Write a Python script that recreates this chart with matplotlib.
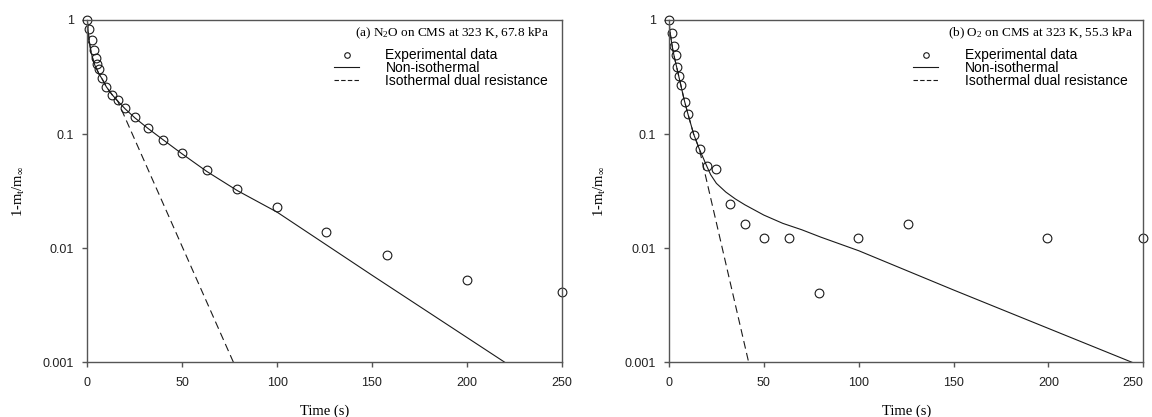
#------------------------------------------------------------
# plot.py
#
# Descr : uptake curves (1 - mt/minf) for N2O and O2 on CMS,
#         experimental points against the non-isothermal and
#         isothermal dual resistance models
#------------------------------------------------------------

import matplotlib
matplotlib.use('Agg')
import matplotlib.pyplot as plt
from matplotlib.lines import Line2D
from matplotlib.ticker import FixedLocator, FixedFormatter, NullLocator

# (a) N2O on CMS at 323 K, 67.8 kPa
n2o_exp_time = [0, 1.0, 2.3, 3.5, 4.4, 5.0, 6.0, 7.7, 9.9, 13, 16, 20, 25, 32, 40, 50, 63, 79, 100, 126, 158, 200, 250]
n2o_exp_frac = [1.0, 0.83, 0.67, 0.55, 0.46, 0.41, 0.37, 0.31, 0.26, 0.22, 0.20, 0.168, 0.140, 0.114, 0.089, 0.068,
                0.048, 0.033, 0.023, 0.014, 0.0088, 0.0053, 0.0041]

n2o_noniso_time = [0, 0.5, 1, 1.5, 2, 3, 4, 5, 6, 8, 10, 13, 16, 20, 25, 32, 40, 50, 63, 79, 100, 150, 220]
n2o_noniso_frac = [1.0, 0.78, 0.66, 0.58, 0.52, 0.45, 0.40, 0.37, 0.34, 0.30, 0.26, 0.222, 0.195, 0.166, 0.139,
                   0.112, 0.089, 0.067, 0.047, 0.032, 0.0207, 0.0058, 0.001]

n2o_dual_time = [0, 0.5, 1, 1.5, 2, 3, 4, 5, 6, 8, 10, 13, 16, 77]
n2o_dual_frac = [1.0, 0.78, 0.66, 0.58, 0.52, 0.45, 0.40, 0.37, 0.34, 0.30, 0.26, 0.222, 0.195, 0.001]

# (b) O2 on CMS at 323 K, 55.3 kPa
o2_exp_time = [0, 1.75, 2.8, 3.5, 4.4, 5.3, 6.1, 8.3, 10.2, 13.2, 16.3, 19.9, 24.6, 32.1, 40.3, 50.3, 63.2, 78.9,
               99.8, 125.8, 199.3, 250]
o2_exp_frac = [1.0, 0.764, 0.595, 0.493, 0.385, 0.323, 0.269, 0.190, 0.150, 0.0975, 0.074, 0.053, 0.049, 0.0245,
               0.0162, 0.01225, 0.01225, 0.00405, 0.01225, 0.0162, 0.01225, 0.01225]

o2_noniso_time = [0, 0.5, 1, 1.5, 2, 3, 4, 5, 6, 8, 10, 13, 16, 20, 22, 25, 30, 35, 40, 50, 60, 70, 80, 100, 150, 244]
o2_noniso_frac = [1.0, 0.80, 0.70, 0.62, 0.55, 0.46, 0.39, 0.33, 0.28, 0.20, 0.15, 0.10, 0.074, 0.052, 0.044,
                  0.037, 0.031, 0.027, 0.024, 0.0195, 0.0165, 0.0145, 0.0125, 0.0095, 0.0043, 0.001]

o2_dual_time = [0, 0.5, 1, 1.5, 2, 3, 4, 5, 6, 8, 10, 13, 16, 42]
o2_dual_frac = [1.0, 0.80, 0.70, 0.62, 0.55, 0.46, 0.39, 0.33, 0.28, 0.20, 0.15, 0.10, 0.074, 0.001]

x_ticks = [0, 50, 100, 150, 200, 250]
y_ticks = [0.001, 0.01, 0.1, 1]
y_tick_labels = ['0.001', '0.01', '0.1', '1']

SERIF = 'Liberation Serif'
SANS = 'Liberation Sans'
SPINE_COLOR = '#555555'
LINE_COLOR = '#1a1a1a'

plt.rcParams['font.family'] = SANS
plt.rcParams['mathtext.fontset'] = 'custom'
plt.rcParams['mathtext.rm'] = SERIF
plt.rcParams['mathtext.it'] = SERIF + ':italic'


def draw_panel(fig, rect, title, exp_t, exp_y, ni_t, ni_y, dr_t, dr_y, title_x, legend_x, last_label_right):

    ax = fig.add_axes(rect)

    ax.plot(ni_t, ni_y, color=LINE_COLOR, lw=0.8, label='Non-isothermal')
    ax.plot(dr_t, dr_y, color=LINE_COLOR, lw=0.8, dashes=(7, 4), label='Isothermal dual resistance')
    ax.plot(exp_t, exp_y, linestyle='none', marker='o', ms=6.3, mfc='none', mec=LINE_COLOR, mew=0.8,
            clip_on=False, label='Experimental data')

    ax.set_yscale('log')
    ax.set_xlim(0, 250)
    ax.set_ylim(0.001, 1)

    ax.xaxis.set_major_locator(FixedLocator(x_ticks))
    ax.yaxis.set_major_locator(FixedLocator(y_ticks))
    ax.yaxis.set_major_formatter(FixedFormatter(y_tick_labels))
    ax.yaxis.set_minor_locator(NullLocator())

    for sp in ax.spines.values():
        sp.set_color(SPINE_COLOR)
        sp.set_linewidth(1.0)

    ax.tick_params(direction='out', length=3.5, width=1.0, color=SPINE_COLOR, labelsize=9,
                   labelcolor='#222222', top=False, right=False)
    ax.tick_params(axis='x', pad=7)
    ax.tick_params(axis='y', pad=6)

    # the last x label sits at the right edge of the figure
    if last_label_right:
        ax.get_xticklabels()[-1].set_horizontalalignment('right')

    ax.set_xlabel('Time (s)', family=SERIF, fontsize=10.5, labelpad=11)
    ax.set_ylabel(r'1-m$_{\mathrm{t}}$/m$_{\mathrm{\infty}}$', family=SERIF, fontsize=10.5)
    ax.yaxis.set_label_coords(-0.128, 0.5)

    ax.text(title_x, 0.961, title, transform=ax.transAxes, ha='right', va='center',
            family=SERIF, fontsize=9.5)

    # legend: markers first, then solid and dashed
    handles = [Line2D([], [], linestyle='none', marker='o', ms=4, mfc='none', mec=LINE_COLOR, mew=0.8),
               Line2D([], [], color=LINE_COLOR, lw=0.8),
               Line2D([], [], color=LINE_COLOR, lw=0.8, dashes=(4, 2))]
    labels = ['Experimental data', 'Non-isothermal', 'Isothermal dual resistance']
    ax.legend(handles, labels, loc='upper left', bbox_to_anchor=(legend_x, 0.917), frameon=False,
              fontsize=10, handlelength=1.8, handletextpad=1.9, labelspacing=-0.1,
              borderpad=0, borderaxespad=0)

    return ax


def graph_results():

    fig = plt.figure(figsize=(11.52, 4.17), dpi=100)

    draw_panel(fig, [0.0758, 0.1312, 0.4118, 0.8209],
               r'(a) N$_2$O on CMS at 323 K, 67.8 kPa',
               n2o_exp_time, n2o_exp_frac, n2o_noniso_time, n2o_noniso_frac, n2o_dual_time, n2o_dual_frac,
               title_x=0.973, legend_x=0.520, last_label_right=False)

    draw_panel(fig, [0.5807, 0.1312, 0.4118, 0.8209],
               r'(b) O$_2$ on CMS at 323 K, 55.3 kPa',
               o2_exp_time, o2_exp_frac, o2_noniso_time, o2_noniso_frac, o2_dual_time, o2_dual_frac,
               title_x=0.979, legend_x=0.515, last_label_right=True)

    fig.savefig('out.png', dpi=100)


if __name__ == "__main__":
    graph_results()
